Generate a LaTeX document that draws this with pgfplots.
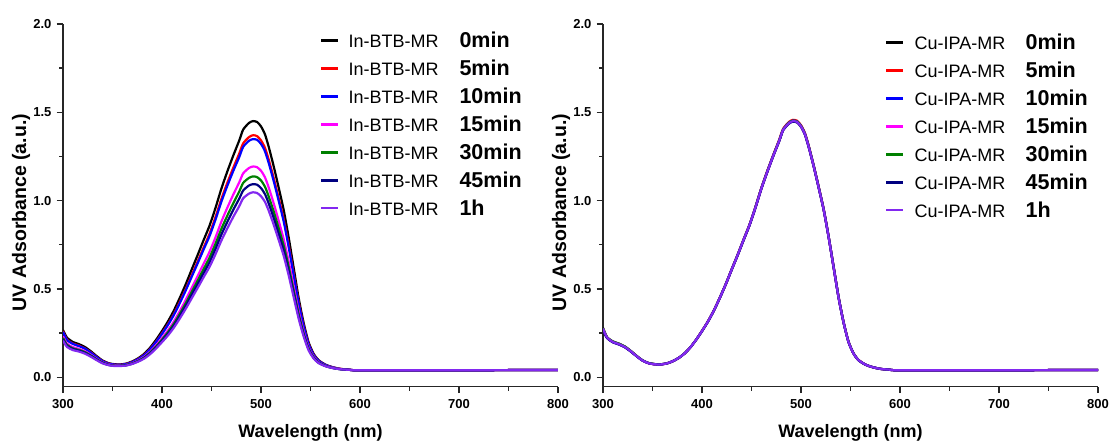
\documentclass[border=0pt]{standalone}
\usepackage{fontspec}
\setmainfont{Liberation Sans}
\usepackage{pgfplots}
\usepackage{pgfplotstable}
\pgfplotsset{compat=1.18}

\definecolor{cBlack}{RGB}{0,0,0}
\definecolor{cRed}{RGB}{255,0,0}
\definecolor{cBlue}{RGB}{0,0,255}
\definecolor{cMagenta}{RGB}{255,0,255}
\definecolor{cGreen}{RGB}{0,128,0}
\definecolor{cNavy}{RGB}{0,0,128}
\definecolor{cViolet}{RGB}{130,40,240}

% In-BTB-MR spectra after 0, 5, 10, 15, 30, 45 min and 1 h
\pgfplotstableread{
x   t0    t5    t10   t15   t30   t45   t60
300 0.268 0.262 0.258 0.232 0.223 0.216 0.208
304 0.225 0.214 0.212 0.191 0.184 0.178 0.172
310 0.200 0.191 0.189 0.171 0.164 0.160 0.154
316 0.188 0.180 0.177 0.161 0.155 0.151 0.146
322 0.172 0.164 0.163 0.148 0.143 0.139 0.134
328 0.148 0.142 0.140 0.128 0.124 0.121 0.117
334 0.120 0.115 0.114 0.105 0.102 0.100 0.097
340 0.095 0.092 0.091 0.085 0.083 0.081 0.079
346 0.080 0.078 0.077 0.073 0.071 0.070 0.069
352 0.074 0.072 0.072 0.068 0.066 0.065 0.064
358 0.073 0.071 0.071 0.067 0.066 0.065 0.064
364 0.078 0.076 0.075 0.071 0.070 0.068 0.067
370 0.090 0.087 0.086 0.081 0.079 0.077 0.076
376 0.108 0.104 0.103 0.096 0.093 0.091 0.089
382 0.133 0.128 0.126 0.116 0.112 0.110 0.106
388 0.168 0.161 0.159 0.145 0.140 0.136 0.131
394 0.212 0.202 0.200 0.181 0.174 0.169 0.163
400 0.262 0.249 0.246 0.222 0.213 0.206 0.199
406 0.316 0.300 0.296 0.266 0.255 0.246 0.237
412 0.378 0.358 0.353 0.316 0.303 0.292 0.281
418 0.450 0.427 0.420 0.375 0.359 0.346 0.333
424 0.527 0.499 0.492 0.438 0.419 0.404 0.388
430 0.610 0.578 0.569 0.506 0.483 0.466 0.447
436 0.692 0.655 0.645 0.573 0.547 0.527 0.506
442 0.776 0.734 0.723 0.642 0.612 0.589 0.566
448 0.858 0.812 0.799 0.710 0.677 0.651 0.625
454 0.958 0.906 0.892 0.791 0.755 0.726 0.696
460 1.068 1.009 0.994 0.881 0.840 0.808 0.774
466 1.165 1.101 1.084 0.960 0.915 0.880 0.843
472 1.255 1.186 1.168 1.034 0.985 0.948 0.908
478 1.340 1.266 1.246 1.103 1.051 1.011 0.968
482 1.402 1.324 1.304 1.154 1.100 1.057 1.013
488 1.440 1.360 1.339 1.185 1.129 1.086 1.040
492 1.450 1.370 1.348 1.193 1.137 1.093 1.047
496 1.445 1.365 1.344 1.189 1.133 1.090 1.043
500 1.420 1.341 1.321 1.169 1.114 1.071 1.025
504 1.375 1.299 1.279 1.132 1.079 1.037 0.993
508 1.300 1.228 1.209 1.071 1.020 0.981 0.940
513 1.190 1.124 1.107 0.981 0.935 0.899 0.861
518 1.070 1.011 0.996 0.883 0.841 0.809 0.775
523 0.945 0.893 0.880 0.780 0.744 0.716 0.686
528 0.790 0.747 0.736 0.654 0.624 0.600 0.576
533 0.620 0.587 0.578 0.514 0.491 0.473 0.454
538 0.450 0.427 0.420 0.375 0.359 0.346 0.333
543 0.310 0.295 0.291 0.261 0.250 0.242 0.233
548 0.200 0.191 0.188 0.171 0.164 0.160 0.154
553 0.135 0.130 0.128 0.118 0.114 0.111 0.108
558 0.098 0.095 0.094 0.087 0.085 0.083 0.081
565 0.072 0.070 0.070 0.066 0.065 0.064 0.063
572 0.058 0.057 0.057 0.055 0.054 0.053 0.053
580 0.048 0.048 0.047 0.047 0.046 0.046 0.046
590 0.043 0.043 0.043 0.042 0.042 0.042 0.042
600 0.040 0.040 0.040 0.040 0.040 0.040 0.040
700 0.040 0.040 0.040 0.040 0.040 0.040 0.040
800 0.042 0.042 0.042 0.042 0.042 0.042 0.042
}\inbtb

% Cu-IPA-MR spectra after 0, 5, 10, 15, 30, 45 min and 1 h
\pgfplotstableread{
x   c0    c5    c10   c15   c30   c45   c60
300 0.280 0.275 0.270 0.272 0.278 0.268 0.276
304 0.228 0.226 0.224 0.225 0.227 0.223 0.226
310 0.203 0.200 0.199 0.200 0.202 0.198 0.200
316 0.191 0.188 0.187 0.188 0.190 0.186 0.188
322 0.175 0.172 0.171 0.172 0.174 0.170 0.172
328 0.150 0.148 0.147 0.148 0.149 0.146 0.148
334 0.121 0.120 0.119 0.120 0.121 0.119 0.120
340 0.096 0.095 0.095 0.095 0.096 0.094 0.095
346 0.081 0.080 0.080 0.080 0.081 0.080 0.080
352 0.075 0.074 0.074 0.074 0.075 0.074 0.074
358 0.074 0.073 0.073 0.073 0.074 0.073 0.073
364 0.078 0.078 0.078 0.078 0.078 0.078 0.078
370 0.090 0.090 0.090 0.090 0.090 0.090 0.090
376 0.108 0.108 0.108 0.108 0.108 0.108 0.108
382 0.133 0.133 0.133 0.133 0.133 0.133 0.133
388 0.168 0.168 0.168 0.168 0.168 0.168 0.168
394 0.212 0.212 0.212 0.212 0.212 0.212 0.212
400 0.262 0.263 0.262 0.262 0.262 0.261 0.262
406 0.316 0.317 0.316 0.316 0.316 0.315 0.316
412 0.378 0.379 0.378 0.378 0.378 0.377 0.378
418 0.450 0.451 0.450 0.449 0.450 0.449 0.450
424 0.527 0.528 0.527 0.526 0.527 0.526 0.527
430 0.610 0.612 0.611 0.609 0.610 0.609 0.610
436 0.692 0.694 0.693 0.691 0.692 0.690 0.692
442 0.778 0.780 0.779 0.777 0.778 0.776 0.778
448 0.862 0.865 0.863 0.861 0.862 0.860 0.862
454 0.962 0.965 0.963 0.960 0.962 0.959 0.961
460 1.070 1.073 1.071 1.068 1.070 1.067 1.069
466 1.165 1.169 1.166 1.163 1.165 1.162 1.164
472 1.255 1.259 1.256 1.253 1.255 1.252 1.254
478 1.340 1.345 1.341 1.338 1.340 1.336 1.339
482 1.402 1.407 1.403 1.399 1.402 1.398 1.401
488 1.440 1.446 1.442 1.438 1.441 1.436 1.439
492 1.452 1.457 1.453 1.449 1.452 1.447 1.450
496 1.447 1.452 1.448 1.444 1.447 1.442 1.445
500 1.422 1.427 1.423 1.419 1.422 1.417 1.420
504 1.377 1.382 1.378 1.374 1.377 1.372 1.375
508 1.302 1.306 1.303 1.299 1.302 1.297 1.300
513 1.192 1.195 1.193 1.189 1.192 1.188 1.190
518 1.072 1.075 1.073 1.070 1.072 1.068 1.070
523 0.947 0.950 0.948 0.945 0.947 0.944 0.945
528 0.792 0.794 0.793 0.790 0.792 0.789 0.790
533 0.622 0.624 0.623 0.620 0.622 0.619 0.620
538 0.452 0.454 0.453 0.450 0.452 0.449 0.450
543 0.311 0.313 0.312 0.310 0.311 0.309 0.310
548 0.201 0.202 0.201 0.200 0.201 0.199 0.200
553 0.136 0.136 0.136 0.135 0.136 0.135 0.135
558 0.098 0.099 0.098 0.098 0.098 0.097 0.098
565 0.072 0.072 0.072 0.072 0.072 0.072 0.072
572 0.058 0.058 0.058 0.058 0.058 0.058 0.058
580 0.048 0.048 0.048 0.048 0.048 0.048 0.048
590 0.043 0.043 0.043 0.043 0.043 0.043 0.043
600 0.040 0.040 0.040 0.040 0.040 0.040 0.040
700 0.040 0.040 0.040 0.040 0.040 0.040 0.040
800 0.042 0.042 0.042 0.042 0.042 0.042 0.042
}\cuipa

% legend row: sample name, then bold time label
\newcommand{\legtext}[3]{\hspace*{#3}%
  \makebox[111pt][l]{\fontsize{18}{18}\selectfont #1}%
  {\fontsize{21.5}{21.5}\selectfont\bfseries #2}}

\pgfplotsset{
  uvaxis/.style={
    scale only axis, width=495pt, height=362.8pt, anchor=south west,
    xmin=300, xmax=800, ymin=-0.053, ymax=2.0,
    axis lines*=left,
    axis line style={line width=1.4pt, black!85},
    xtick={300,400,500,600,700,800},
    ytick={0,0.5,1.0,1.5,2.0},
    minor x tick num=1, minor y tick num=1,
    tick align=outside, major tick length=6.5pt, minor tick length=4pt,
    every tick/.style={line width=1.3pt, black!85},
    /pgf/number format/assume math mode=true,
    ticklabel style={font=\fontsize{13}{13}\selectfont\bfseries},
    xticklabel style={anchor=center, yshift=-10.5pt},
    yticklabel style={anchor=east, xshift=-1.5pt,
      /pgf/number format/fixed, /pgf/number format/fixed zerofill,
      /pgf/number format/precision=1},
    xlabel={Wavelength (nm)},
    ylabel={UV Adsorbance (a.u.)},
    xlabel style={font=\fontsize{18}{18}\selectfont\bfseries,
      at={(axis description cs:0.5,-0.128)}, anchor=center},
    ylabel style={font=\fontsize{19.5}{19.5}\selectfont\bfseries,
      at={(axis description cs:-0.0848,0.48)}, anchor=center},
    legend cell align=left,
    legend image code/.code={\draw[##1, line width=2.6pt] (0pt,0pt) -- (17pt,0pt);},
    legend style={anchor=north west, draw=none, fill=none,
      inner sep=0pt, outer sep=0pt, row sep=0pt, column sep=0pt,
      nodes={inner sep=0pt, outer sep=0pt, text height=20.9pt, text depth=7pt}},
    every axis plot/.append style={line width=2.2pt, smooth, tension=0.4, no markers},
  }
}

\begin{document}
\begin{tikzpicture}
\useasboundingbox (0,0) rectangle (1112pt,443pt);

\begin{axis}[uvaxis, at={(63pt,56.3pt)},
  legend style={at={(0.519,0.992)}}]
  \addplot[cBlack]   table[x=x, y=t0]  {\inbtb}; \addlegendentry{\legtext{In-BTB-MR}{0min}{9pt}}
  \addplot[cRed]     table[x=x, y=t5]  {\inbtb}; \addlegendentry{\legtext{In-BTB-MR}{5min}{9pt}}
  \addplot[cBlue]    table[x=x, y=t10] {\inbtb}; \addlegendentry{\legtext{In-BTB-MR}{10min}{9pt}}
  \addplot[cMagenta] table[x=x, y=t15] {\inbtb}; \addlegendentry{\legtext{In-BTB-MR}{15min}{9pt}}
  \addplot[cGreen]   table[x=x, y=t30] {\inbtb}; \addlegendentry{\legtext{In-BTB-MR}{30min}{9pt}}
  \addplot[cNavy]    table[x=x, y=t45] {\inbtb}; \addlegendentry{\legtext{In-BTB-MR}{45min}{9pt}}
  \addplot[cViolet]  table[x=x, y=t60] {\inbtb}; \addlegendentry{\legtext{In-BTB-MR}{1h}{9pt}}
\end{axis}

\begin{axis}[uvaxis, at={(603pt,56.3pt)},
  legend style={at={(0.5697,0.9866)}}]
  \addplot[cBlack]   table[x=x, y=c0]  {\cuipa}; \addlegendentry{\legtext{Cu-IPA-MR}{0min}{10pt}}
  \addplot[cRed]     table[x=x, y=c5]  {\cuipa}; \addlegendentry{\legtext{Cu-IPA-MR}{5min}{10pt}}
  \addplot[cBlue]    table[x=x, y=c10] {\cuipa}; \addlegendentry{\legtext{Cu-IPA-MR}{10min}{10pt}}
  \addplot[cMagenta] table[x=x, y=c15] {\cuipa}; \addlegendentry{\legtext{Cu-IPA-MR}{15min}{10pt}}
  \addplot[cGreen]   table[x=x, y=c30] {\cuipa}; \addlegendentry{\legtext{Cu-IPA-MR}{30min}{10pt}}
  \addplot[cNavy]    table[x=x, y=c45] {\cuipa}; \addlegendentry{\legtext{Cu-IPA-MR}{45min}{10pt}}
  \addplot[cViolet]  table[x=x, y=c60] {\cuipa}; \addlegendentry{\legtext{Cu-IPA-MR}{1h}{10pt}}
\end{axis}
\end{tikzpicture}
\end{document}
